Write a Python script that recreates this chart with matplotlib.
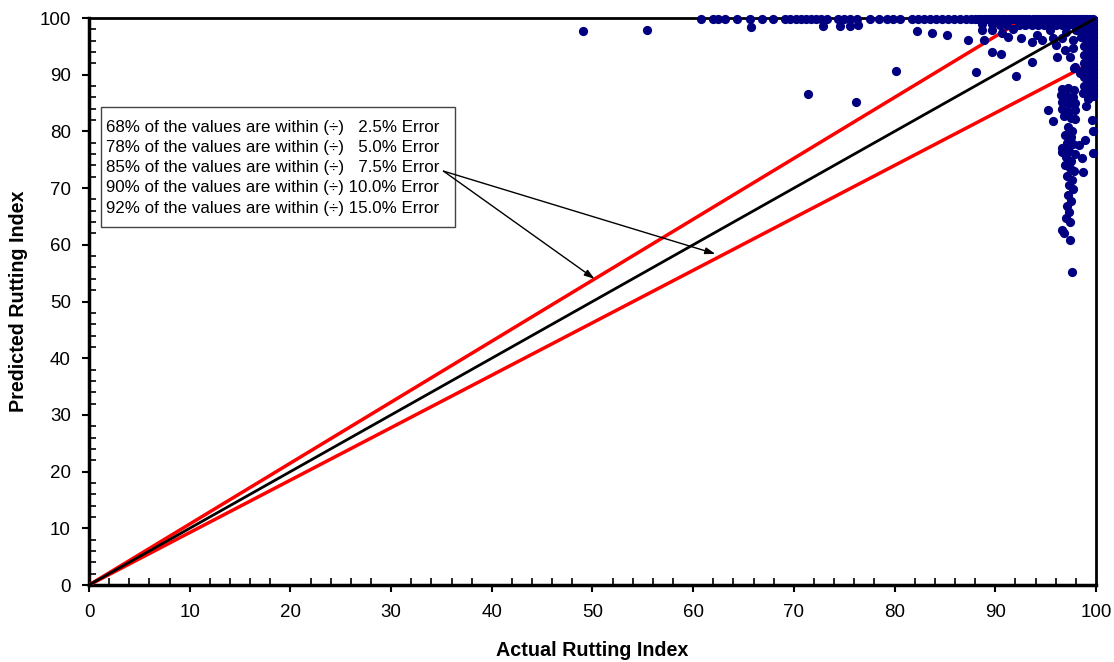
import matplotlib
matplotlib.use("Agg")
import matplotlib.pyplot as plt
from matplotlib.ticker import MultipleLocator
from matplotlib.patches import Rectangle
import numpy as np

plt.rcParams['font.family'] = ['Liberation Sans', 'DejaVu Sans']

# ---- data ----
top_row_x = [60.8, 62.0, 62.5, 63.2, 64.4, 65.6, 66.8, 67.9, 69.1, 69.6, 70.2, 70.7, 71.2, 71.7,
             72.2, 72.7, 73.3, 74.4, 75.0, 75.6, 76.3, 77.6, 78.5, 79.2, 79.8, 80.5, 81.7, 82.3,
             82.9, 83.5, 84.1, 84.7, 85.3, 85.9, 86.5, 87.1, 87.6, 88.3, 88.9, 89.5, 90.1, 90.7,
             91.3, 91.9, 92.5, 93.1, 93.7, 94.3, 94.9, 95.5, 96.1, 96.7, 97.3, 97.9, 98.5, 99.1, 99.7,
             88.0, 88.6, 89.2, 89.8, 90.4, 91.0, 91.6, 92.2, 92.8, 93.4, 94.0, 94.6, 95.2, 95.8,
             96.4, 97.0, 97.6, 98.2, 98.8, 99.4]
top_row_y = [99.9] * len(top_row_x)

second_row_x = [65.7, 72.9, 74.6, 75.6, 76.4, 88.7, 89.7, 90.5, 91.2, 91.8, 92.4, 93.0, 93.6, 94.2,
                94.8, 95.4, 96.0, 96.6, 97.2, 97.8, 98.4, 99.0,
                93.3, 93.9, 94.5, 95.1, 95.7, 96.3, 96.9, 97.5, 98.1, 98.7, 99.3, 99.6]
second_row_y = [98.4, 98.6, 98.6, 98.6, 98.7, 98.9, 98.9, 98.8, 98.8, 98.1, 98.8, 98.8, 98.8, 98.8,
                98.8, 98.8, 98.8, 98.8, 98.8, 98.8, 98.8, 98.8,
                99.3, 99.3, 99.3, 99.3, 99.3, 99.3, 99.3, 99.3, 99.3, 99.3, 99.3, 99.3]

scatter_x = [82.2, 83.7, 88.7, 89.7, 90.7, 91.3, 92.6, 93.6, 94.1, 94.6, 95.4, 95.7, 96.0, 96.6,
             96.9, 97.7, 97.7, 98.5, 97.0, 98.0, 99.0,
             85.2, 87.3, 88.9, 89.7, 90.6, 80.1, 88.1, 92.1, 93.6, 96.1, 97.4, 71.4, 76.2,
             95.2, 95.7, 49.1, 55.4, 97.8, 98.4]
scatter_y = [97.7, 97.4, 97.9, 97.9, 97.4, 96.6, 96.5, 95.8, 97.0, 96.1, 97.9, 96.5, 95.2, 96.5,
             94.4, 94.7, 96.1, 96.6, 97.5, 97.8, 97.8,
             97.0, 96.1, 96.1, 94.0, 93.7, 90.7, 90.5, 89.8, 92.2, 93.1, 93.1, 86.6, 85.2,
             83.8, 81.8, 97.7, 97.9, 91.2, 90.3]

right_col_x = [99.7] * 20 + [99.2] * 20 + [98.8] * 8
right_col_y = [86.8, 87.5, 88.2, 88.9, 89.6, 90.3, 91.0, 91.7, 92.4, 93.1, 93.8, 94.5, 95.2, 95.9,
               96.6, 97.3, 98.0, 98.7, 99.4, 86.2,
               86.5, 87.2, 87.9, 88.6, 89.3, 90.0, 90.7, 91.4, 92.1, 92.8, 93.5, 94.2, 94.9, 95.6,
               96.3, 97.0, 97.7, 98.4, 99.1, 85.8,
               88.0, 89.6, 91.0, 92.0, 93.5, 95.0, 96.4, 97.6]

lower_right_x = [99.6, 99.7, 99.7, 98.9, 98.6, 98.7, 98.3, 97.9, 98.7, 99.0]
lower_right_y = [82.0, 80.1, 76.2, 78.5, 75.3, 72.8, 77.6, 91.4, 86.8, 84.5]

cluster_x = [96.6, 97.2, 97.8, 96.5, 97.1, 97.7, 96.6, 97.3, 97.9, 96.6, 97.2, 97.9, 96.8, 97.5, 97.9,
             97.2, 97.6, 96.9, 97.5, 97.1, 97.7, 96.6, 97.3, 97.9, 97.0, 97.5, 96.9, 97.4, 97.8,
             97.1, 97.6, 97.3, 97.7, 97.2, 97.5, 97.1, 97.3, 97.0, 97.4, 96.6, 96.8, 97.4, 97.6, 96.6]
cluster_y = [87.5, 87.6, 87.3, 86.5, 86.2, 86.0, 85.2, 84.9, 85.0, 84.0, 83.5, 83.8, 82.7, 82.3, 82.2,
             80.8, 80.0, 79.3, 79.0, 78.0, 77.8, 77.0, 76.5, 76.0, 75.5, 74.8, 74.0, 73.5, 73.0,
             72.2, 71.5, 70.5, 69.8, 68.8, 67.8, 66.8, 65.8, 64.8, 64.0, 62.6, 62.0, 60.8, 55.2, 76.4]

error_band = 0.075
legend_lines = [
    "68% of the values are within (\u00f7)   2.5% Error",
    "78% of the values are within (\u00f7)   5.0% Error",
    "85% of the values are within (\u00f7)   7.5% Error",
    "90% of the values are within (\u00f7) 10.0% Error",
    "92% of the values are within (\u00f7) 15.0% Error",
]

xs = np.concatenate([top_row_x, second_row_x, scatter_x, right_col_x, lower_right_x, cluster_x])
ys = np.concatenate([top_row_y, second_row_y, scatter_y, right_col_y, lower_right_y, cluster_y])

# ---- figure ----
fig = plt.figure(figsize=(11.14, 6.62), dpi=100)
ax = fig.add_axes([0.0799, 0.1163, 0.9039, 0.8565])

ax.scatter(xs, ys, s=44, color='#000080', zorder=4, linewidths=0, clip_on=False)

line_x = np.array([0, 100])
ax.plot(line_x, line_x, color='black', lw=2, zorder=5)
ax.plot([0, 100 / (1 + error_band)], [0, 100], color='red', lw=2.5, zorder=3)
ax.plot([0, 100], [0, 100 * (1 - error_band)], color='red', lw=2.5, zorder=3)

ax.set_xlim(0, 100)
ax.set_ylim(0, 100)
ax.xaxis.set_major_locator(MultipleLocator(10))
ax.yaxis.set_major_locator(MultipleLocator(10))
ax.xaxis.set_minor_locator(MultipleLocator(2))
ax.yaxis.set_minor_locator(MultipleLocator(2))
ax.tick_params(which='major', direction='out', length=5, width=1.5, labelsize=13.5, colors='black')
ax.tick_params(which='minor', direction='in', length=5, width=1.2)
ax.tick_params(axis='x', which='major', pad=9)
ax.tick_params(axis='y', which='major', pad=8)
for side in ['left', 'bottom']:
    ax.spines[side].set_linewidth(2.5)
for side in ['top', 'right']:
    ax.spines[side].set_linewidth(2)

ax.set_xlabel('Actual Rutting Index', fontsize=14.2, fontweight='bold', labelpad=14)
ax.set_ylabel('Predicted Rutting Index', fontsize=14.2, fontweight='bold', labelpad=8)

# annotation box
ax.add_patch(Rectangle((1.2, 63.1), 35.1, 21.2, facecolor='white', edgecolor='#444444',
                       lw=1, zorder=6))
ax.text(1.7, 73.6, "\n".join(legend_lines), fontsize=12.2, va='center', ha='left',
        linespacing=1.43, zorder=7)

for tgt in [(50.2, 54.0), (62.2, 58.4)]:
    ax.annotate('', xy=tgt, xytext=(35.2, 73.0),
                arrowprops=dict(arrowstyle='-|>,head_length=0.6,head_width=0.2',
                                color='black', lw=1, shrinkA=0, shrinkB=0), zorder=8)

fig.savefig('out.png', dpi=100)
